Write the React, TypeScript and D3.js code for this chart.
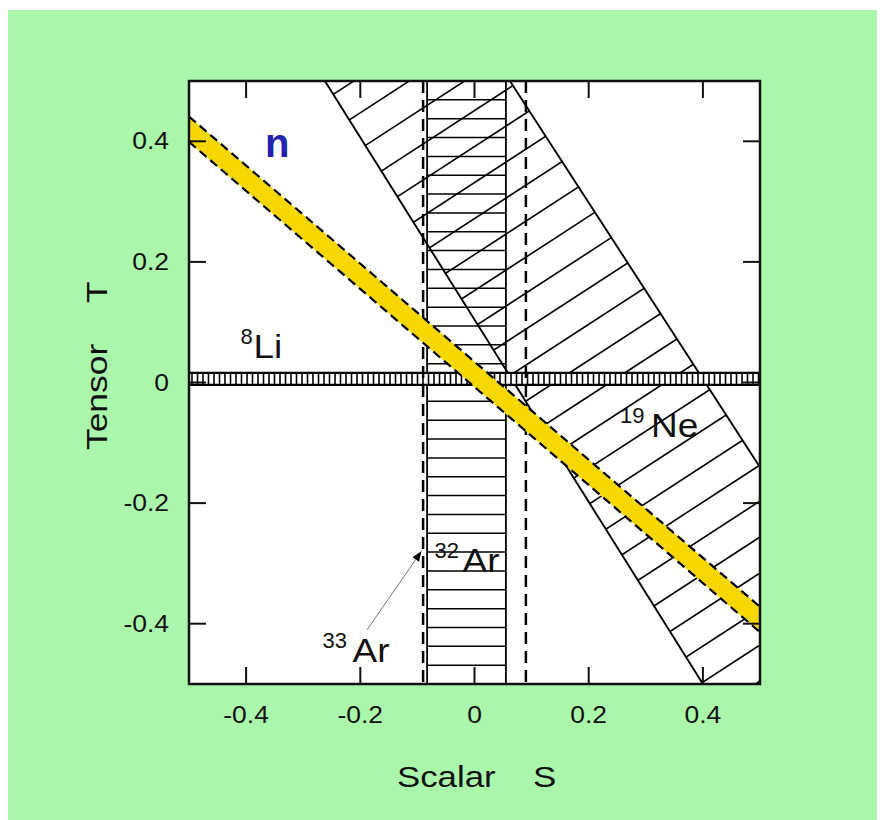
import React from 'react';
import * as d3 from 'd3';

const W = 893;
const H = 820;

// axis ticks
const xTicks = [-0.4, -0.2, 0, 0.2, 0.4];
const yTicks = [-0.4, -0.2, 0, 0.2, 0.4];
const xTickLabels = ['-0.4', '-0.2', '0', '0.2', '0.4'];
const yTickLabels = ['-0.4', '-0.2', '0', '0.2', '0.4'];

// n (yellow) band: centre line end points [S, T] and half width in T
const nCentre: [number, number][] = [[-0.5, 0.42], [0.5, -0.393]];
const nHalf = 0.021;

// 19Ne allowed region, left and right edges [S, T]
const ne19Left: [number, number][] = [[-0.262, 0.5], [0.4, -0.5]];
const ne19Right: [number, number][] = [[0.062, 0.5], [0.746, -0.5]];

// vertical bands in S, horizontal band in T
const ar32Band = [-0.083, 0.055];
const ar33Band = [-0.09, 0.09];
const li8Band = [-0.004, 0.016];

// arrow from 33Ar label to its band
const arrow33: [number, number][] = [[-0.188, -0.41], [-0.093, -0.28]];

// nucleus labels: position of superscript start and main baseline
const labels = [
  { sup: '8', main: 'Li', s: -0.41, t: 0.041, supW: 13 },
  { sup: '19', main: 'Ne', s: 0.255, t: -0.09, supW: 31 },
  { sup: '32', main: 'Ar', s: -0.07, t: -0.314, supW: 28 },
  { sup: '33', main: 'Ar', s: -0.266, t: -0.464, supW: 30 },
];

const FONT = "'Liberation Sans', Arial, Helvetica, sans-serif";

const App = () => {
  const x = d3.scaleLinear().domain([-0.5, 0.5]).range([189, 760]);
  const y = d3.scaleLinear().domain([-0.5, 0.5]).range([684, 81]);
  const [x0, x1] = x.range();
  const [y0, y1] = [y(0.5), y(-0.5)];

  const line = d3.line<[number, number]>().x(d => x(d[0])).y(d => y(d[1]));

  // yellow band polygon
  const nTop: [number, number][] = nCentre.map(([s, t]) => [s, t + nHalf]);
  const nBot: [number, number][] = nCentre.map(([s, t]) => [s, t - nHalf]);
  const nPoly = [...nTop, ...nBot.slice().reverse()];

  // 19Ne polygon
  const nePoly = [...ne19Left, ...ne19Right.slice().reverse()];

  // hatch lines for 19Ne (pixel pattern, slope and spacing from picture)
  const neSlope = -0.65;
  const neStep = 36;
  const neLines = d3.range(-14, 17).map(k => 635 + neStep * k);

  // 32Ar horizontal hatching
  const arLines = d3.range(1, 32).map(k => 0.5 - k / 32);

  // 8Li vertical hatching
  const liLines = d3.range(x0 + 3, x1, 5.5);

  return (
    <div>
      <style>{`body{margin:0}`}</style>
      <svg width={W} height={H} style={{ display: 'block' }} fontFamily={FONT}>
        <defs>
          <clipPath id="plot">
            <rect x={x0} y={y0} width={x1 - x0} height={y1 - y0} />
          </clipPath>
          <clipPath id="ne19">
            <path d={line(nePoly) + 'Z'} />
          </clipPath>
          <marker id="head" viewBox="0 0 10 10" refX="10" refY="5" markerWidth="10" markerHeight="10" orient="auto" markerUnits="userSpaceOnUse">
            <path d="M0,1 L10,5 L0,9 Z" fill="#000" />
          </marker>
        </defs>

        <rect x={0} y={0} width={W} height={H} fill="#fff" />
        <rect x={8} y={10} width={869} height={H - 10} fill="#aaf6ab" />
        <rect x={x0} y={y0} width={x1 - x0} height={y1 - y0} fill="#fff" />

        <g clipPath="url(#plot)">
          {/* 32Ar band */}
          {arLines.map((t, i) => (
            <line key={'ar' + i} x1={x(ar32Band[0])} x2={x(ar32Band[1])} y1={y(t)} y2={y(t)} stroke="#000" strokeWidth={1.5} />
          ))}
          {ar32Band.map((s, i) => (
            <line key={'arb' + i} x1={x(s)} x2={x(s)} y1={y0} y2={y1} stroke="#000" strokeWidth={1.8} />
          ))}

          {/* 19Ne band */}
          <g clipPath="url(#ne19)">
            {neLines.map((c, i) => (
              <line key={'ne' + i} x1={x0} x2={x1} y1={c + neSlope * x0} y2={c + neSlope * x1} stroke="#000" strokeWidth={1.6} />
            ))}
          </g>
          <path d={line(ne19Left)!} fill="none" stroke="#000" strokeWidth={1.9} />
          <path d={line(ne19Right)!} fill="none" stroke="#000" strokeWidth={1.9} />

          {/* 8Li band */}
          <rect x={x0} y={y(li8Band[1])} width={x1 - x0} height={y(li8Band[0]) - y(li8Band[1])} fill="#fff" />
          {liLines.map((px, i) => (
            <line key={'li' + i} x1={px} x2={px} y1={y(li8Band[1])} y2={y(li8Band[0])} stroke="#000" strokeWidth={1.6} />
          ))}
          {li8Band.map((t, i) => (
            <line key={'lib' + i} x1={x0} x2={x1} y1={y(t)} y2={y(t)} stroke="#000" strokeWidth={2.2} />
          ))}

          {/* 33Ar dashed limits */}
          {ar33Band.map((s, i) => (
            <line key={'a33' + i} x1={x(s)} x2={x(s)} y1={y0} y2={y1} stroke="#000" strokeWidth={2.5} strokeDasharray="12,7" />
          ))}

          {/* neutron band */}
          <path d={line(nPoly) + 'Z'} fill="#f7d700" stroke="none" />
          <path d={line(nTop)!} fill="none" stroke="#000" strokeWidth={2.2} strokeDasharray="9,5" />
          <path d={line(nBot)!} fill="none" stroke="#000" strokeWidth={2.2} strokeDasharray="9,5" />
        </g>

        {/* frame and ticks */}
        <rect x={x0} y={y0} width={x1 - x0} height={y1 - y0} fill="none" stroke="#111" strokeWidth={2.5} />
        {xTicks.map((v, i) => (
          <g key={'xt' + i}>
            <line x1={x(v)} x2={x(v)} y1={y1} y2={y1 - 17} stroke="#111" strokeWidth={2} />
            <line x1={x(v)} x2={x(v)} y1={y0} y2={y0 + 17} stroke="#111" strokeWidth={2} />
            <text transform={`translate(${x(v)},723) scale(1.15,1)`} textAnchor="middle" fontSize={23} fill="#111">
              {xTickLabels[i]}
            </text>
          </g>
        ))}
        {yTicks.map((v, i) => (
          <g key={'yt' + i}>
            <line x1={x0} x2={x0 + 17} y1={y(v)} y2={y(v)} stroke="#111" strokeWidth={2} />
            <line x1={x1} x2={x1 - 17} y1={y(v)} y2={y(v)} stroke="#111" strokeWidth={2} />
            <text transform={`translate(169,${y(v) + 8}) scale(1.15,1)`} textAnchor="end" fontSize={23} fill="#111">
              {yTickLabels[i]}
            </text>
          </g>
        ))}

        {/* axis titles */}
        <text transform="translate(397,787) scale(1.16,1)" fontSize={30} fill="#111">Scalar</text>
        <text transform="translate(533,787) scale(1.16,1)" fontSize={30} fill="#111">S</text>
        <text transform="translate(107,450) rotate(-90) scale(1.18,1)" fontSize={30} fill="#111">Tensor</text>
        <text transform="translate(107,303) rotate(-90) scale(1.18,1)" fontSize={30} fill="#111">T</text>

        {/* labels */}
        <text x={x(-0.367)} y={y(0.374)} fontSize={40} fontWeight="bold" fill="#2323b0">n</text>
        {labels.map((l, i) => (
          <g key={'lb' + i} transform={`translate(${x(l.s)},${y(l.t)})`}>
            <text x={0} y={-14} fontSize={22} fill="#111">{l.sup}</text>
            <text transform={`translate(${l.supW},0) scale(1.12,1)`} fontSize={33} fill="#111">{l.main}</text>
          </g>
        ))}
        <path d={line(arrow33)!} fill="none" stroke="#777" strokeWidth={1} markerEnd="url(#head)" />
      </svg>
    </div>
  );
};

export default App;
